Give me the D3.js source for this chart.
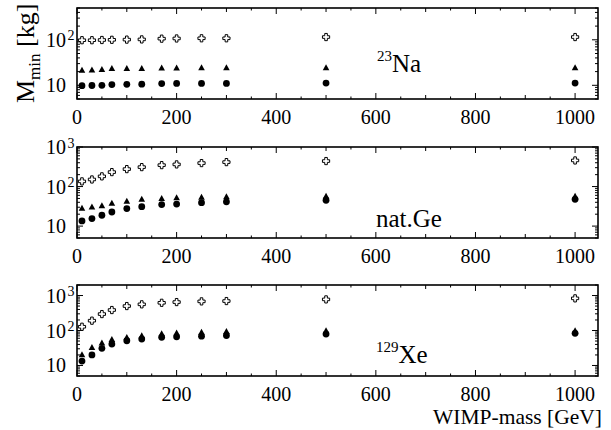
<!DOCTYPE html>
<html><head><meta charset="utf-8">
<script src="https://cdn.jsdelivr.net/npm/d3@7"></script>
<style>body{margin:0;background:#fff} svg text{font-family:"Liberation Serif","LiberationSerif","Tinos","Times New Roman","Times","Noto Serif","DejaVu Serif","FreeSerif",serif !important;}</style>
</head><body><svg id="c" width="611" height="430"></svg>
<script>
// WIMP masses [GeV]
const masses = [10, 30, 50, 70, 100, 130, 170, 200, 250, 300, 500, 1000];
// 23Na
const naCross = [98, 98, 99, 100, 101, 102, 106, 107, 108, 108, 115, 115];
const naTri   = [21, 21.5, 22, 23, 23, 23, 23.5, 23.5, 24, 24, 24, 24];
const naCirc  = [9.8, 9.9, 10, 10.4, 10.5, 10.6, 10.9, 11, 11, 11, 11.2, 11.2];
// nat.Ge
const geCross = [135, 151, 181, 232, 276, 310, 348, 363, 392, 415, 441, 457];
const geTri   = [27.7, 29.8, 32, 37, 42, 47, 49, 51, 53, 54, 56, 56];
const geCirc  = [13.5, 15.5, 18.8, 22.7, 27.7, 31, 35, 36, 39, 41, 45, 47.5];
// 129Xe
const xeCross = [128, 191, 295, 385, 500, 560, 620, 650, 680, 695, 775, 830];
const xeTri   = [20, 32, 43, 54, 62, 69, 79, 83, 87, 92, 97, 97];
const xeCirc  = [13.4, 20, 31, 41, 51, 57, 64, 66, 69, 72, 79, 83];

const xTickValues = [0, 200, 400, 600, 800, 1000];
const panelSup = ["23", "", "129"];
const panelName = ["Na", "nat.Ge", "Xe"];
const panelYMax = [500, 1000, 2000];

const svg = d3.select("#c");
const L = 77, R = 598, PH = 91;
const panelTops = [8, 147, 285];
const labelPos = [[377, 72], [376, 227], [376, 363]];
const x = d3.scaleLinear().domain([0, 1046]).range([L, R]);

const panels = [
  {cross: naCross, tri: naTri, circ: naCirc},
  {cross: geCross, tri: geTri, circ: geCirc},
  {cross: xeCross, tri: xeTri, circ: xeCirc}
];

const crossPath = (() => { const a = 1.3, s = 3.6;
  return `M${-a},${-s}H${a}V${-a}H${s}V${a}H${a}V${s}H${-a}V${a}H${-s}V${-a}H${-a}Z`; })();
const triPath = "M0,-3.8L3.3,2.2L-3.3,2.2Z";

panels.forEach((p, i) => {
  const top = panelTops[i], bot = top + PH;
  const y = d3.scaleLog().domain([5, panelYMax[i]]).range([bot, top]);
  const g = svg.append("g");

  const xt = d3.range(0, 1046, 50);
  xt.forEach(v => {
    const len = v % 200 === 0 ? 6 : (v % 100 === 0 ? 4 : 2.5);
    g.append("line").attr("x1", x(v)).attr("x2", x(v)).attr("y1", bot).attr("y2", bot - len).attr("stroke", "#000").attr("stroke-width", 1);
    g.append("line").attr("x1", x(v)).attr("x2", x(v)).attr("y1", top).attr("y2", top + len).attr("stroke", "#000").attr("stroke-width", 1);
  });
  [1, 10, 100, 1000].forEach(d => {
    for (let k = 1; k <= 9; k++) {
      const v = k * d;
      if (v < 5 || v > panelYMax[i]) continue;
      const len = k === 1 ? 6 : 3;
      g.append("line").attr("x1", L).attr("x2", L + len).attr("y1", y(v)).attr("y2", y(v)).attr("stroke", "#000").attr("stroke-width", 1);
      g.append("line").attr("x1", R).attr("x2", R - len).attr("y1", y(v)).attr("y2", y(v)).attr("stroke", "#000").attr("stroke-width", 1);
    }
  });
  g.append("rect").attr("x", L).attr("y", top).attr("width", R - L).attr("height", PH)
    .attr("fill", "none").attr("stroke", "#000").attr("stroke-width", 1.6);

  xTickValues.forEach(v => {
    g.append("text").attr("x", x(v)).attr("y", bot + 25).attr("text-anchor", "middle")
      .attr("font-size", 20).text(v);
  });
  [10, 100, 1000].forEach(v => {
    if (v > panelYMax[i] * 1.001) return;
    const e = Math.round(Math.log10(v));
    g.append("text").attr("x", 66).attr("y", y(v) + 7).attr("text-anchor", "end")
      .attr("font-size", 20).text("10");
    if (e > 1) {
      g.append("text").attr("x", 67.5).attr("y", y(v) + 0.5).attr("font-size", 14).text(e);
    }
  });

  g.selectAll(".cr").data(masses).join("path").attr("d", crossPath)
    .attr("transform", (m, j) => `translate(${x(m)},${y(p.cross[j])})`)
    .attr("fill", "#fff").attr("stroke", "#000").attr("stroke-width", 1);
  g.selectAll(".tr").data(masses).join("path").attr("d", triPath)
    .attr("transform", (m, j) => `translate(${x(m)},${y(p.tri[j])})`).attr("fill", "#000");
  g.selectAll(".ci").data(masses).join("circle")
    .attr("cx", m => x(m)).attr("cy", (m, j) => y(p.circ[j])).attr("r", 3.4).attr("fill", "#000");

  const t = g.append("text").attr("x", labelPos[i][0]).attr("y", labelPos[i][1]).attr("font-size", 25);
  if (panelSup[i]) {
    t.append("tspan").attr("font-size", 15).attr("dy", -11).text(panelSup[i]);
    t.append("tspan").attr("dy", 11).text(panelName[i]);
  } else {
    t.text(panelName[i]);
  }
});

const yt = svg.append("text").attr("transform", "translate(34,103) rotate(-90)").attr("font-size", 26);
yt.append("tspan").text("M");
yt.append("tspan").attr("font-size", 17).attr("dy", 6).text("min");
yt.append("tspan").attr("dy", -6).text(" [kg]");

svg.append("text").attr("x", 602).attr("y", 424).attr("text-anchor", "end").attr("font-size", 21.5)
  .text("WIMP-mass [GeV]");
</script></body></html>
